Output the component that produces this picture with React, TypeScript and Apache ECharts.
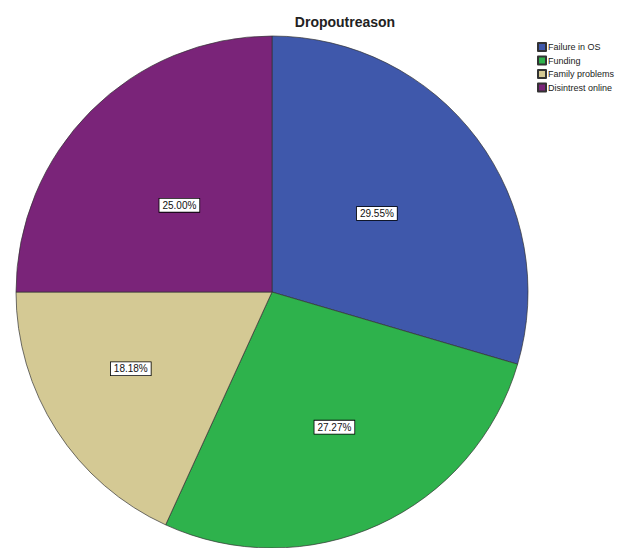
import React, { useEffect, useRef } from "react";
import * as echarts from "echarts";

// Dropout reasons, share of respondents in percent
const reasons = ["Failure in OS", "Funding", "Family problems", "Disintrest online"];
const shares = [29.55, 27.27, 18.18, 25.0];
const colors = ["#3F58AB", "#2EB24C", "#D4C994", "#7A2479"];
const chartTitle = "Dropoutreason";
// nudges for the percentage boxes inside each slice
const labelOffsets: [number, number][] = [[0, 0], [8, 16], [-31, 6], [0, 6]];

export default function App() {
  const ref = useRef<HTMLDivElement>(null);

  useEffect(() => {
    if (!ref.current) return;
    const chart = echarts.init(ref.current, null, { renderer: "svg" });
    chart.setOption({
      animation: false,
      backgroundColor: "#ffffff",
      title: {
        text: chartTitle,
        left: 340,
        top: 10,
        textAlign: "center",
        textStyle: {
          fontFamily: "Liberation Sans, Arial, sans-serif",
          fontSize: 14,
          fontWeight: "bold",
          color: "#222",
        },
      },
      legend: {
        orient: "vertical",
        left: 532,
        top: 37,
        itemWidth: 8,
        itemHeight: 8,
        itemGap: 3.5,
        icon: "rect",
        selectedMode: false,
        textStyle: {
          fontFamily: "Liberation Sans, Arial, sans-serif",
          fontSize: 9,
          color: "#222",
          padding: [0, 0, 0, -3],
        },
        data: reasons,
      },
      series: [
        {
          type: "pie",
          center: [272, 292],
          radius: 256,
          startAngle: 90,
          clockwise: true,
          itemStyle: { borderColor: "#333", borderWidth: 0.7 },
          label: {
            show: true,
            position: "inside",
            formatter: (p: any) => `${Number(p.value).toFixed(2)}%`,
            fontFamily: "Liberation Sans, Arial, sans-serif",
            fontSize: 10,
            color: "#111",
            backgroundColor: "#ffffff",
            borderColor: "#000",
            borderWidth: 0.8,
            padding: [2, 3, 1, 3],
          },
          labelLine: { show: false },
          emphasis: { disabled: true },
          data: reasons.map((name, i) => ({
            name,
            value: shares[i],
            itemStyle: { color: colors[i] },
            label: { offset: labelOffsets[i] },
          })),
        },
      ],
    });
    return () => chart.dispose();
  }, []);

  return (
    <div
      ref={ref}
      style={{ position: "fixed", left: 0, top: 0, width: 636, height: 548 }}
    />
  );
}
